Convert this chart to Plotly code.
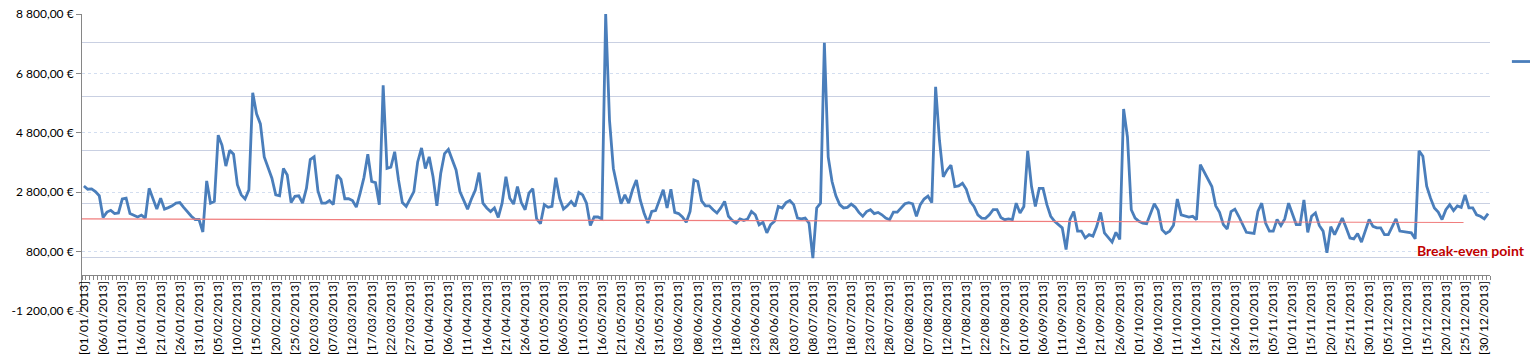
import pandas as pd
import plotly.graph_objects as go

# ---- data -------------------------------------------------------------
# category labels as they appear on the sheet (two extra rows in early June)
first_part = pd.date_range("2013-01-01", "2013-05-31", freq="D")
extra_rows = ["2013-06-01", "2013-06-01", "2013-06-02", "2013-06-02"]
last_part = pd.date_range("2013-06-03", "2013-12-31", freq="D")
category_labels = (
    [d.strftime("[%d/%m/%Y]") for d in first_part]
    + [pd.Timestamp(d).strftime("[%d/%m/%Y]") for d in extra_rows]
    + [d.strftime("[%d/%m/%Y]") for d in last_part]
)

daily_result = [
    3010, 2900, 2910, 2820, 2680, 1950, 2130, 2190, 2080, 2100,
    2570, 2600, 2080, 2010, 1965, 2030, 1930, 2930, 2600, 2230,
    2600, 2230, 2280, 2340, 2430, 2450, 2290, 2120, 1990, 1880,
    1880, 1460, 3180, 2430, 2490, 4720, 4380, 3680, 4210, 4080,
    3050, 2710, 2570, 2880, 6150, 5440, 5100, 3990, 3640, 3270,
    2710, 2680, 3600, 3380, 2450, 2660, 2680, 2430, 2930, 3900,
    3990, 2840, 2430, 2430, 2520, 2380, 3380, 3230, 2580, 2580,
    2520, 2300, 2770, 3300, 4080, 3160, 3120, 2380, 6400, 3600,
    3640, 4160, 3210, 2450, 2320, 2570, 2820, 3820, 4290, 3600,
    3990, 3320, 2340, 3430, 4100, 4240, 3900, 3550, 2820, 2540,
    2230, 2570, 2860, 3460, 2430, 2270, 2150, 2270, 1950, 2430,
    3320, 2600, 2400, 2990, 2450, 2210, 2770, 2920, 1900, 1740,
    2380, 2290, 2320, 3290, 2600, 2230, 2340, 2490, 2320, 2790,
    2710, 2430, 1680, 1965, 1965, 1900, 8800, 5220, 3600, 2990,
    2410, 2710, 2430, 2880, 3210, 2540, 2100, 1760, 2150, 2180,
    2540, 2880, 2270, 2900, 2120, 2080, 1965, 1790, 2150, 3210,
    3160, 2510, 2340, 2340, 2210, 2100, 2270, 2490, 1990, 1850,
    1760, 1900, 1850, 1900, 2150, 2040, 1700, 1790, 1430, 1710,
    1820, 2320, 2270, 2450, 2520, 2380, 1930, 1900, 1930, 1760,
    580, 2270, 2430, 7830, 3990, 3160, 2680, 2380, 2270, 2290,
    2400, 2300, 2120, 1990, 2150, 2210, 2080, 2120, 2040, 1930,
    1875, 2130, 2130, 2270, 2410, 2450, 2410, 1990, 2380, 2570,
    2670, 2450, 6350, 4550, 3320, 3550, 3710, 2990, 3010, 3100,
    2900, 2490, 2320, 2040, 1930, 1920, 2040, 2210, 2210, 1950,
    1875, 1900, 1875, 2430, 2100, 2320, 4190, 2990, 2320, 2930,
    2930, 2380, 1990, 1820, 1710, 1600, 870, 1875, 2150, 1490,
    1490, 1260, 1370, 1320, 1650, 2120, 1430, 1260, 1120, 1450,
    1210, 5600, 4660, 2210, 1930, 1820, 1760, 1740, 2100, 2410,
    2190, 1540, 1410, 1490, 1690, 2570, 2040, 2000, 1965, 1990,
    1875, 3730, 3490, 3230, 2990, 2340, 2120, 1710, 1560, 2150,
    2230, 1990, 1710, 1450, 1430, 1410, 2150, 2430, 1760, 1490,
    1490, 1880, 1680, 1900, 2430, 2100, 1710, 1710, 2540, 1450,
    1990, 2100, 1680, 1490, 760, 1640, 1370, 1650, 1930, 1600,
    1260, 1230, 1410, 1120, 1540, 1880, 1650, 1600, 1600, 1370,
    1370, 1650, 1900, 1490, 1470, 1460, 1430, 1230, 4190, 4010,
    3000, 2600, 2270, 2130, 1880, 2210, 2380, 2180, 2340, 2290,
    2710, 2270, 2270, 2040, 1990, 1900, 2080,
]

break_even_x = [-2, 359.6]
break_even_values = [1900, 1780]
break_even_label = "Break-even point"

y_tick_values = [-1200, 800, 2800, 4800, 6800, 8800]
y_tick_text = ["-1 200,00 €", "800,00 €", "2 800,00 €", "4 800,00 €", "6 800,00 €", "8 800,00 €"]
secondary_grid_values = [608, 2423, 4204, 6018, 7832]

# ---- figure -----------------------------------------------------------
FONT = "Lato, 'Liberation Sans', Arial, sans-serif"
n = len(category_labels)
x_idx = list(range(n))

fig = go.Figure()
fig.add_trace(go.Scatter(
    x=x_idx, y=daily_result, mode="lines", name=" ",
    line=dict(color="#4a7ebb", width=2.8),
    customdata=category_labels, hovertemplate="%{customdata}: %{y:,.2f} €<extra></extra>",
    showlegend=True,
))
fig.add_trace(go.Scatter(
    x=break_even_x, y=break_even_values, mode="lines",
    line=dict(color="#f07d7d", width=1.2),
    yaxis="y2", showlegend=False, hoverinfo="skip",
))

fig.add_annotation(
    x=361.5, y=850, xref="x", yref="y", text="<b>" + break_even_label + "</b>",
    showarrow=False, xanchor="center", yanchor="middle",
    font=dict(family=FONT, size=14, color="#c00000"),
)

fig.update_layout(
    width=1530, height=364,
    margin=dict(l=82, r=40, t=14, b=53, autoexpand=False),
    paper_bgcolor="white", plot_bgcolor="white",
    font=dict(family=FONT, size=12, color="#000000"),
    showlegend=True,
    legend=dict(x=1.012, y=0.84, xanchor="left", yanchor="middle",
                bgcolor="rgba(0,0,0,0)", font=dict(size=1),
                itemwidth=30),
    xaxis=dict(
        range=[-0.5, n - 0.5],
        anchor="free", position=0.12,
        tickmode="array", tickvals=x_idx[::5], ticktext=category_labels[::5],
        tickangle=-90,
        ticks="", showgrid=False, zeroline=False,
        showline=True, linecolor="#868686", linewidth=1,
        minor=dict(ticks="outside", tick0=-0.5, dtick=1,
                   ticklen=4, tickcolor="#868686", showgrid=False),
        tickfont=dict(family=FONT, size=12, color="#000000"),
        automargin=False,
    ),
    yaxis=dict(
        range=[-1200, 8800], domain=[0, 1],
        tickmode="array", tickvals=y_tick_values, ticktext=y_tick_text,
        ticks="outside", ticklen=5, tickcolor="#868686",
        showline=True, linecolor="#868686", linewidth=1,
        showgrid=True, gridcolor="#d3def0", griddash="dot", gridwidth=1,
        zeroline=False,
        tickfont=dict(family=FONT, size=12, color="#000000"),
        automargin=False,
    ),
    yaxis2=dict(
        range=[-1200, 8800], overlaying="y", side="left",
        tickmode="array", tickvals=secondary_grid_values,
        showticklabels=False, ticks="", showline=False, zeroline=False,
        showgrid=True, gridcolor="#c9d0e2", gridwidth=1,
    ),
)

fig.write_html("out.html", config={"displayModeBar": False},
               post_script="document.body.style.margin='0';")
